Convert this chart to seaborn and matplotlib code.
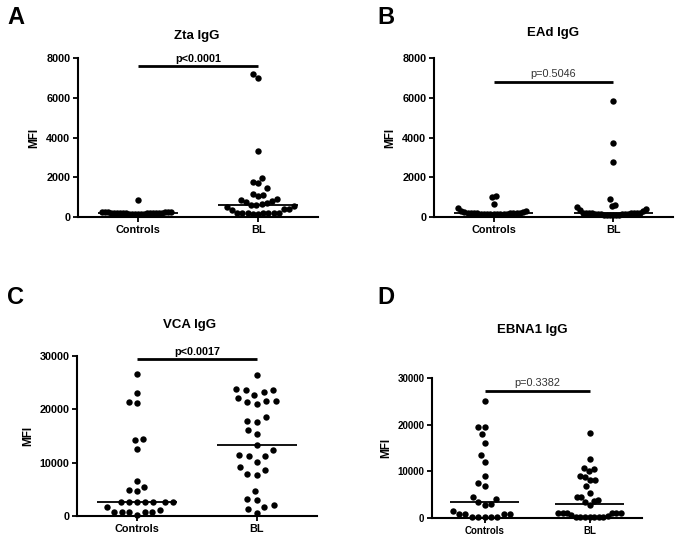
"""Scatter dot plots of EBV antibody MFI, controls vs BL."""

import warnings

import matplotlib
matplotlib.use("Agg")
import matplotlib.pyplot as plt
import numpy as np
import pandas as pd
import seaborn as sns

warnings.filterwarnings("ignore")

sns.set_theme(style="ticks")
plt.rcParams["font.family"] = ["Liberation Sans", "DejaVu Sans"]
plt.rcParams["font.weight"] = "bold"
plt.rcParams["axes.labelweight"] = "bold"
for key in ["text.color", "axes.labelcolor", "xtick.color", "ytick.color"]:
    plt.rcParams[key] = "black"

groups = ["Controls", "BL"]

# Zta IgG
zta_controls = [850] + [250] * 6 + [200] * 12 + [150] * 6
zta_bl = [7200, 7000, 3300, 1950, 1750, 1700, 1450, 1150, 1100, 1050, 900, 850,
          800, 750, 700, 650, 600, 600, 550, 500, 400, 400, 350] \
    + [200] * 7 + [150] * 2

# EAd IgG
ead_controls = [1050, 1000, 650, 450, 300, 300, 250, 250] + [200] * 8 + [150] * 9
ead_bl = [5850, 3700, 2750, 900, 600, 550, 500, 400, 350, 300] \
    + [200] * 8 + [150] * 6 + [100] * 6

# VCA IgG
vca_controls = [26700, 23000, 21300, 21200, 14500, 14300, 12600, 6500, 5500,
                4900, 4700] + [2600] * 7 + [1700, 1200] + [700] * 5 + [100]
vca_bl = [26400, 23900, 23600, 22700, 23300, 23600, 21600, 21400, 21000, 21600,
          22200, 18600, 17700, 17900, 16100, 15400, 13300, 11400, 11300, 12300,
          11300, 10200, 8600, 7600, 7800, 9100, 4750, 3200, 3000, 1750, 1400,
          2060, 500]

# EBNA1 IgG
ebna_controls = [25100, 19600, 19600, 17900, 16100, 13600, 11900, 9000, 7500,
                 6900, 4500, 4100, 3400, 2900, 2700, 1600] + [800] * 4 + [200] * 5
ebna_bl = [18300, 12600, 10800, 10400, 10100, 9000, 8800, 8100, 8100, 6900,
           5400, 4500, 4400, 3800, 3600, 3400, 2800] \
    + [1100] * 6 + [600, 400] + [200] * 7

titles = ["Zta IgG", "EAd IgG", "VCA IgG", "EBNA1 IgG"]
letters = ["A", "B", "C", "D"]
p_texts = ["p<0.0001", "p=0.5046", "p<0.0017", "p=0.3382"]
p_bold = [True, False, True, False]
bar_levels = [7600, 6800, 29400, 27300]
y_max = [8000, 8000, 30000, 30000]
y_step = [2000, 2000, 10000, 10000]
series = [(zta_controls, zta_bl), (ead_controls, ead_bl),
          (vca_controls, vca_bl), (ebna_controls, ebna_bl)]

W, H = 685, 548
# axes boxes in pixels: left, right, y of zero line, y of top
boxes = [(78, 318, 217, 58), (434, 673, 217, 58),
         (77, 317, 516, 356), (432, 642, 518, 378)]
title_pos = [(197, 36), (553, 33), (190, 325), (532, 330)]
letter_pos = [(7, 17), (377, 17), (7, 297), (377, 297)]
dot_size = 4.6        # drawn marker diameter (pt)
swarm_size = 6.8      # spacing used when laying out the swarm
max_spread = 0.3
stretch = 4.0         # temporary axes widening so the swarm never hits its gutter
tick_sizes = [7.8, 7.8, 7.8, 7.0]

fig = plt.figure(figsize=(W / 100, H / 100), dpi=100)
axes, rects = [], []

for i in range(4):
    x0, x1, yb, yt = boxes[i]
    rect = [x0 / W, 1 - yb / H, (x1 - x0) / W, (yb - yt) / H]
    ax = fig.add_axes(rect)
    axes.append(ax)
    rects.append(rect)
    ctrl, bl = series[i]
    df = pd.DataFrame({
        "group": [groups[0]] * len(ctrl) + [groups[1]] * len(bl),
        "MFI": ctrl + bl,
    })
    sns.swarmplot(data=df, x="group", y="MFI", order=groups, color="black",
                  size=swarm_size, ax=ax, clip_on=False, zorder=3, linewidth=0)
    ax.set_xlim(-0.5, 1.5)
    ax.set_ylim(0, y_max[i])

    # median lines
    for k, vals in enumerate([ctrl, bl]):
        ax.hlines(np.median(vals), k - 0.33, k + 0.33, color="black", lw=1.3,
                  zorder=4)

    # significance bar
    ax.plot([0, 1], [bar_levels[i]] * 2, color="black", lw=2, clip_on=False,
            solid_capstyle="butt")
    ax.text(0.5, bar_levels[i] + y_max[i] * 0.015, p_texts[i], ha="center",
            va="bottom", fontsize=7.8,
            fontweight="bold" if p_bold[i] else "normal",
            color="black" if p_bold[i] else "#333333")

    ax.set_yticks(np.arange(0, y_max[i] + 1, y_step[i]))
    ax.set_xlabel("")
    ax.set_ylabel("MFI", fontsize=8.5, labelpad=4)
    ax.tick_params(axis="both", labelsize=tick_sizes[i], width=1.3, length=3.5,
                   color="black", pad=2)
    for lab in ax.get_xticklabels() + ax.get_yticklabels():
        lab.set_fontweight("bold")
    sns.despine(ax=ax)
    for s in ["left", "bottom"]:
        ax.spines[s].set_linewidth(1.5)
        ax.spines[s].set_color("black")

    tx, ty = title_pos[i]
    fig.text(tx / W, 1 - ty / H, titles[i], ha="center", va="center",
             fontsize=9.5, fontweight="bold")
    lx, ly = letter_pos[i]
    fig.text(lx / W, 1 - ly / H, letters[i], ha="left", va="center",
             fontsize=17, fontweight="bold")

# let seaborn lay out the swarms once on widened axes, then freeze them,
# restore the axes, shrink the dots and keep each cloud in a fixed band
for ax, rect in zip(axes, rects):
    ax.set_position([rect[0], rect[1], rect[2] * stretch, rect[3]])
fig.canvas.draw()
for ax, rect in zip(axes, rects):
    ax.set_position(rect)
    for coll in ax.collections:
        off = np.asarray(coll.get_offsets(), dtype=float)
        if off.ndim != 2 or len(off) < 2:
            continue
        coll.draw = type(coll).draw.__get__(coll)
        centre = np.round(np.median(off[:, 0]))
        dev = (off[:, 0] - centre) * stretch
        f = min(1.0, max_spread / max(np.abs(dev).max(), 1e-9))
        off[:, 0] = centre + dev * f
        coll.set_offsets(off)
        coll.set_sizes([dot_size ** 2])

fig.savefig("out.png", dpi=100, facecolor="white")
